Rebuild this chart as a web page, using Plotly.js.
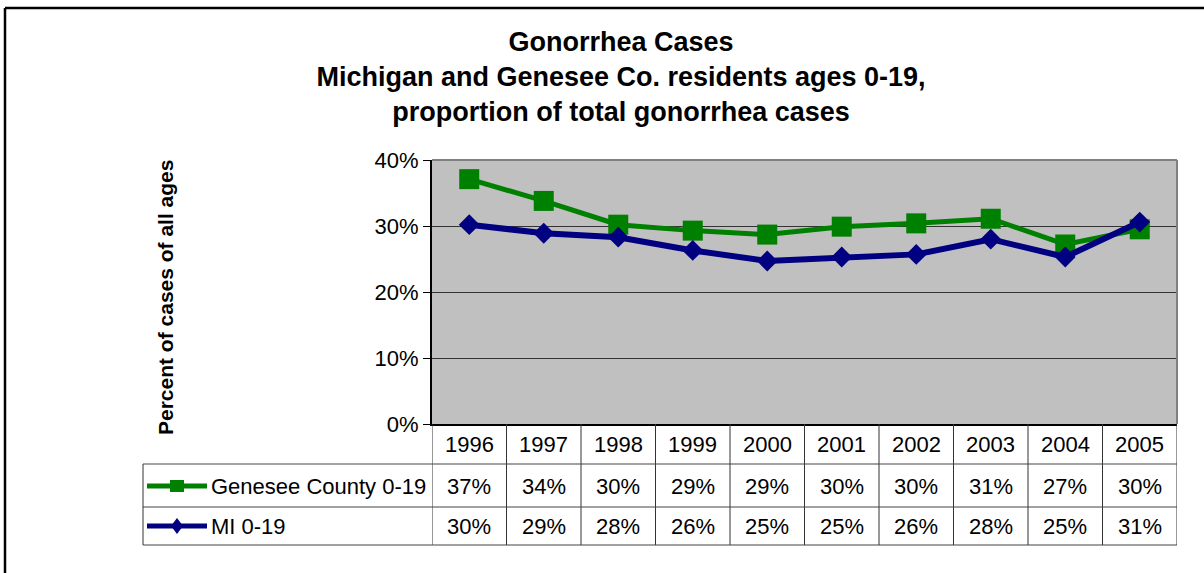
<!DOCTYPE html>
<html>
<head>
<meta charset="utf-8">
<script src="https://cdn.plot.ly/plotly-3.0.1.min.js"></script>
<style>
  body { margin: 0; background: #fff; }
  #chart { width: 1204px; height: 573px; }
</style>
</head>
<body>
<div id="chart"></div>
<script>
// Data (percent of all gonorrhea cases, ages 0-19)
const years = ['1996', '1997', '1998', '1999', '2000', '2001', '2002', '2003', '2004', '2005'];
const genesee = [37.1, 33.8, 30.2, 29.3, 28.7, 29.9, 30.4, 31.1, 27.2, 29.5];
const michigan = [30.2, 28.9, 28.3, 26.3, 24.7, 25.3, 25.7, 28.0, 25.3, 30.6];
const seriesNames = ['Genesee County 0-19', 'MI 0-19'];
const yTicks = [0, 10, 20, 30, 40];

const green = '#008000';
const navy = '#000080';
const font = 'Liberation Sans, Arial, sans-serif';

// plot area in pixels: x 432..1177, y 160..424
const W = 745, H = 264;
const px = (p) => (p - 432) / W;  // page x -> paper x
const py = (p) => (424 - p) / H;  // page y -> paper y

const traces = [
    {
        x: years, y: genesee, name: seriesNames[0],
        mode: 'lines+markers',
        line: {color: green, width: 5},
        marker: {symbol: 'square', size: 20, color: green}
    },
    {
        x: years, y: michigan, name: seriesNames[1],
        mode: 'lines+markers',
        line: {color: navy, width: 6},
        marker: {symbol: 'diamond', size: 16, color: navy}
    }
];

// data table rows (page y of row centres)
const rowHeader = py(444), rowG = py(486), rowM = py(526);
const shapes = [];
const annotations = [];

// outer chart frame (top and left only visible)
shapes.push({type: 'line', xref: 'paper', yref: 'paper', x0: px(5), x1: px(1300), y0: py(8), y1: py(8), line: {color: '#000', width: 2.5}});
shapes.push({type: 'line', xref: 'paper', yref: 'paper', x0: px(5), x1: px(5), y0: py(8), y1: py(700), line: {color: '#000', width: 2.5}});

// plot area border (top, right)
shapes.push({type: 'line', xref: 'paper', yref: 'paper', x0: 0, x1: 1, y0: 1, y1: 1, line: {color: '#808080', width: 2}, layer: 'above'});
shapes.push({type: 'line', xref: 'paper', yref: 'paper', x0: 1, x1: 1, y0: 0, y1: 1, line: {color: '#808080', width: 2}, layer: 'above'});

// table grid
for (let i = 0; i <= years.length; i++) {
    shapes.push({type: 'line', xref: 'x', yref: 'paper', x0: i - 0.5, x1: i - 0.5, y0: 0, y1: py(545), line: {color: '#333', width: 1}});
}
[464, 507, 545].forEach(function(r) {
    shapes.push({type: 'line', xref: 'paper', yref: 'paper', x0: px(143), x1: 1, y0: py(r), y1: py(r), line: {color: '#444', width: 1.2}});
});
shapes.push({type: 'line', xref: 'paper', yref: 'paper', x0: px(143), x1: px(143), y0: py(464), y1: py(545), line: {color: '#333', width: 1}});

// legend keys inside the table
shapes.push({type: 'line', xref: 'paper', yref: 'paper', x0: px(147), x1: px(207), y0: rowG, y1: rowG, line: {color: green, width: 5}});
shapes.push({type: 'rect', xref: 'paper', yref: 'paper', xsizemode: 'pixel', ysizemode: 'pixel',
    xanchor: px(177), yanchor: rowG, x0: -7, x1: 7, y0: -6, y1: 6, fillcolor: green, line: {width: 0}});
shapes.push({type: 'line', xref: 'paper', yref: 'paper', x0: px(147), x1: px(207), y0: rowM, y1: rowM, line: {color: navy, width: 5}});
shapes.push({type: 'path', xref: 'paper', yref: 'paper', xsizemode: 'pixel', ysizemode: 'pixel',
    xanchor: px(177), yanchor: rowM, path: 'M 0 8 L 6 0 L 0 -8 L -6 0 Z', fillcolor: navy, line: {width: 0}});

annotations.push({xref: 'paper', yref: 'paper', x: px(209), y: rowG, xanchor: 'left', yanchor: 'middle', text: seriesNames[0], showarrow: false});
annotations.push({xref: 'paper', yref: 'paper', x: px(209), y: rowM, xanchor: 'left', yanchor: 'middle', text: seriesNames[1], showarrow: false});

// table cells: column i sits on category i of the x axis
years.forEach(function(yr, i) {
    const cx = px(432) + (i + 0.5) / years.length;
    annotations.push({xref: 'paper', yref: 'paper', x: cx, y: rowHeader, text: yr, showarrow: false, xanchor: 'center', yanchor: 'middle'});
    annotations.push({xref: 'paper', yref: 'paper', x: cx, y: rowG, text: Math.round(genesee[i]) + '%', showarrow: false, xanchor: 'center', yanchor: 'middle'});
    annotations.push({xref: 'paper', yref: 'paper', x: cx, y: rowM, text: Math.round(michigan[i]) + '%', showarrow: false, xanchor: 'center', yanchor: 'middle'});
});

// y axis title
annotations.push({xref: 'paper', yref: 'paper', x: px(165), y: py(298), textangle: -90, xanchor: 'center', yanchor: 'middle',
    text: '<b>Percent of cases of all ages</b>', showarrow: false, font: {size: 21, family: font, color: '#000'}});

const layout = {
    width: 1204,
    height: 573,
    margin: {l: 432, r: 27, t: 160, b: 149},
    paper_bgcolor: '#fff',
    plot_bgcolor: '#C0C0C0',
    showlegend: false,
    font: {family: font, size: 22, color: '#000'},
    title: {
        text: '<b>Gonorrhea Cases<br>Michigan and Genesee Co. residents ages 0-19,<br>proportion of total gonorrhea cases</b>',
        font: {family: font, size: 27, color: '#000'},
        xref: 'container', x: 621 / 1204,
        yref: 'container', y: 1 - 51 / 573, yanchor: 'top'
    },
    xaxis: {
        type: 'category',
        range: [-0.5, years.length - 0.5],
        showticklabels: false,
        ticks: '',
        showgrid: false,
        zeroline: false,
        showline: true, linecolor: '#000', linewidth: 2
    },
    yaxis: {
        range: [0, 40],
        tickmode: 'array',
        tickvals: yTicks,
        ticktext: yTicks.map(v => v + '%'),
        ticks: 'outside', ticklen: 7, tickcolor: '#000', tickwidth: 1,
        showgrid: true, gridcolor: '#333', gridwidth: 1,
        zeroline: false,
        showline: true, linecolor: '#000', linewidth: 2
    },
    shapes: shapes,
    annotations: annotations
};

Plotly.newPlot('chart', traces, layout, {displayModeBar: false, staticPlot: true});
</script>
</body>
</html>
